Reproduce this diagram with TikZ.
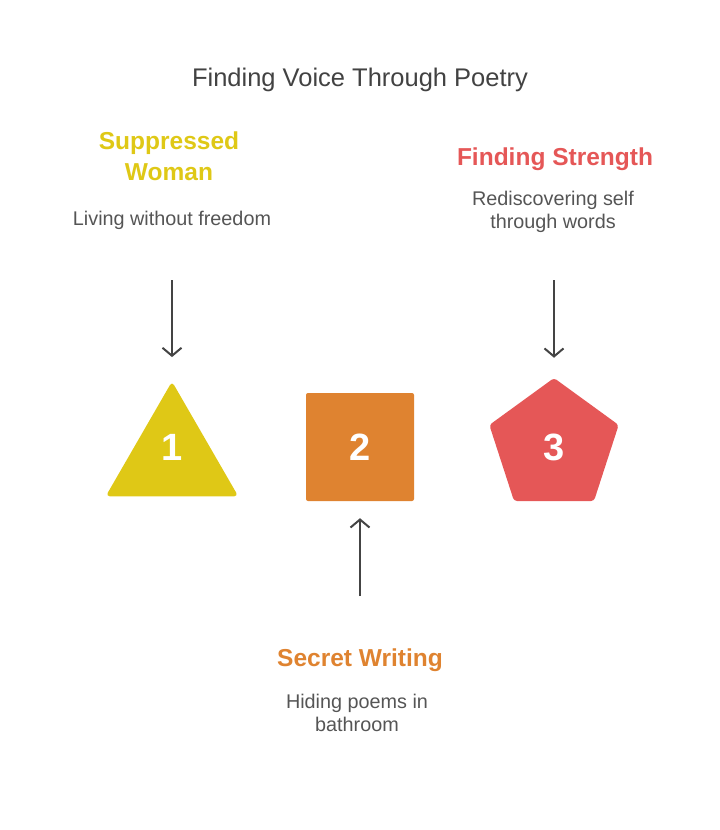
\documentclass[tikz,border=0pt]{standalone}
\usepackage{fontspec}
\setmainfont{Liberation Sans}
\usetikzlibrary{positioning, arrows.meta, shapes.geometric}

\definecolor{ttlgray}{HTML}{424242}
\definecolor{txtgray}{HTML}{555555}
\definecolor{arrgray}{HTML}{444444}
\definecolor{stepyellow}{HTML}{DFC816}
\definecolor{steporange}{HTML}{DF8330}
\definecolor{stepred}{HTML}{E55757}

\begin{document}
\begin{tikzpicture}[
    x=1pt, y=-1pt,
    ttl/.style={font=\fontsize{25.5}{30}\selectfont, text=ttlgray},
    head/.style={align=center, font=\fontsize{24.5}{31}\selectfont\bfseries},
    desc/.style={align=center, text=txtgray, font=\fontsize{19.8}{23}\selectfont},
    num/.style={text=white, font=\fontsize{38}{40}\selectfont\bfseries},
    tri/.style={regular polygon, regular polygon sides=3, minimum size=153pt, inner sep=0pt, fill=stepyellow, rounded corners=4pt},
    sq/.style={rectangle, minimum size=108pt, inner sep=0pt, fill=steporange, rounded corners=2pt},
    pent/.style={regular polygon, regular polygon sides=5, minimum size=136pt, inner sep=0pt, fill=stepred, rounded corners=3pt},
    arr/.style={draw=arrgray, line width=2pt, -{Straight Barb[length=8pt, width=19pt]}}
  ]
  \useasboundingbox (0,0) rectangle (720,830);

  \node[ttl] (title) at (360,80) {Finding Voice Through Poetry};

  % shapes
  \node[tri] (tri) at (172,458) {};
  \node[sq] (sq) at (360,447) {};
  \node[pent] (pent) at (554,446) {};
  \node[num] (n1) at (172,447) {1};
  \node[num] (n2) at (360,447) {2};
  \node[num] (n3) at (554,447) {3};

  % labels
  \node[head, text=stepyellow] (h1) at (169,156) {Suppressed\\Woman};
  \node[desc] (d1) at (172,220) {Living without freedom};
  \node[head, text=stepred] (h3) at (555,159) {Finding Strength};
  \node[desc] (d3) at (553,212) {Rediscovering self\\through words};
  \node[head, text=steporange] (h2) at (360,660) {Secret Writing};
  \node[desc] (d2) at (357,713) {Hiding poems in\\bathroom};

  % arrows
  \coordinate (a1) at (172,280);
  \coordinate (a3) at (554,280);
  \coordinate (a2) at (360,596);
  \draw[arr, shorten >=24pt] (a1) -- (tri.north);
  \draw[arr, shorten >=20pt] (a3) -- (pent.north);
  \draw[arr, shorten >=17pt] (a2) -- (sq.south);

\end{tikzpicture}
\end{document}
